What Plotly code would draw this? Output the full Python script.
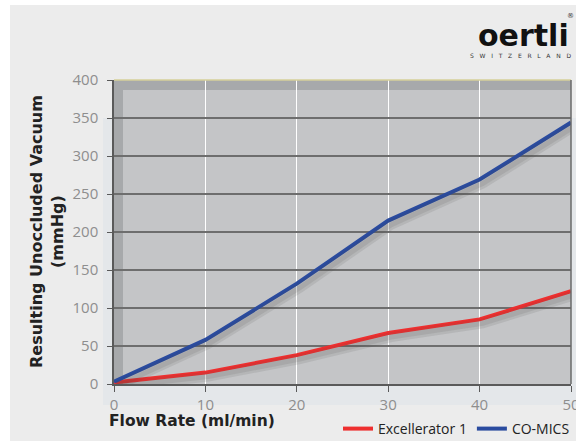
import plotly.graph_objects as go

flow_rate = [0, 10, 20, 30, 40, 50]
excellerator = [2, 15, 38, 67, 85, 122]
comics = [3, 58, 132, 215, 269, 344]
series_names = ["Excellerator 1", "CO-MICS"]
x_ticks = [0, 10, 20, 30, 40, 50]
y_ticks = [0, 50, 100, 150, 200, 250, 300, 350, 400]

RED = "#ee2f2f"
BLUE = "#2a4b9f"

fig = go.Figure()

# soft shadows drawn on slightly offset overlay axes
for ys in (excellerator, comics):
    fig.add_trace(go.Scatter(x=flow_rate, y=ys, mode="lines", xaxis="x2", yaxis="y2",
                             line=dict(color="rgba(70,70,70,0.12)", width=10),
                             showlegend=False, hoverinfo="skip"))
    fig.add_trace(go.Scatter(x=flow_rate, y=ys, mode="lines", xaxis="x2", yaxis="y2",
                             line=dict(color="rgba(70,70,70,0.12)", width=5),
                             showlegend=False, hoverinfo="skip"))

fig.add_trace(go.Scatter(x=flow_rate, y=excellerator, mode="lines", name=series_names[0],
                         line=dict(color=RED, width=4)))
fig.add_trace(go.Scatter(x=flow_rate, y=comics, mode="lines", name=series_names[1],
                         line=dict(color=BLUE, width=4)))

W, H = 576, 441
L, R, T, B = 114, 5, 80, 57
pw, ph = W - L - R, H - T - B

def px(xp):
    return (xp - L) / pw

def py(yp):
    return (H - B - yp) / ph

shapes = [
    # page background
    dict(type="rect", xref="paper", yref="paper", x0=px(10), x1=px(578), y0=py(443), y1=py(5),
         fillcolor="#ececec", line_width=0, layer="below"),
    # light glow around the panel
    dict(type="rect", xref="paper", yref="paper", x0=px(103), x1=px(578), y0=py(405), y1=py(118),
         fillcolor="#e4e7ea", line_width=0, layer="below"),
    # panel
    dict(type="rect", xref="x domain", yref="y domain", x0=0, x1=1, y0=0, y1=1,
         fillcolor="#c4c5c7", line_width=0, layer="below"),
    dict(type="rect", xref="x domain", yref="y domain", x0=0, x1=9 / pw, y0=0, y1=1,
         fillcolor="#a7a9ab", line_width=0, layer="below"),
    dict(type="rect", xref="x domain", yref="y domain", x0=0, x1=1, y0=1 - 10 / ph, y1=1,
         fillcolor="#a7a9ab", line_width=0, layer="below"),
    dict(type="line", xref="x domain", yref="y domain", x0=0, x1=1, y0=1, y1=1,
         line=dict(color="#d6d09a", width=1.5), layer="above"),
    dict(type="line", xref="x domain", yref="y domain", x0=1, x1=1, y0=0, y1=1,
         line=dict(color="#6a6a6a", width=1.5), layer="above"),
]

tickfont = dict(family="Open Sans", size=15, color="#8e8e8e")

fig.update_layout(
    width=W, height=H,
    margin=dict(l=L, r=R, t=T, b=B, autoexpand=False),
    paper_bgcolor="white",
    plot_bgcolor="rgba(0,0,0,0)",
    shapes=shapes,
    xaxis=dict(range=[0, 50], tickvals=x_ticks, showgrid=True, gridcolor="white", gridwidth=1,
               showline=True, linecolor="#5a5a5a", linewidth=1.5, ticks="outside", ticklen=6,
               tickcolor="#5a5a5a", tickfont=tickfont, zeroline=False, fixedrange=True,
               ticklabeloverflow="allow"),
    yaxis=dict(range=[0, 400], tickvals=y_ticks, showgrid=True, gridcolor="#6e6e6e", gridwidth=1.5,
               showline=True, linecolor="#5a5a5a", linewidth=1.5, ticks="outside", ticklen=5,
               tickcolor="#5a5a5a", tickfont=tickfont, zeroline=False, ticklabelstandoff=6,
               fixedrange=True),
    xaxis2=dict(overlaying="x", range=[-0.33, 49.67], visible=False),
    yaxis2=dict(overlaying="y", range=[5.3, 405.3], visible=False),
    legend=dict(orientation="h", xref="container", yref="container",
                xanchor="right", x=575 / W, yanchor="middle", y=(H - 429) / H,
                font=dict(family="Open Sans", size=14, color="#222"), itemwidth=30,
                bgcolor="rgba(0,0,0,0)", traceorder="normal"),
    annotations=[
        dict(text="<b>Resulting Unoccluded Vacuum<br>(mmHg)</b>", textangle=-90,
             xref="paper", yref="paper", x=px(47), y=py(232), xanchor="center", yanchor="middle",
             showarrow=False, font=dict(family="DejaVu Sans", size=16, color="#222"), align="center"),
        dict(text="<b>Flow Rate (ml/min)</b>", xref="paper", yref="paper", x=px(107), y=py(421),
             xanchor="left", yanchor="middle", showarrow=False,
             font=dict(family="DejaVu Sans", size=15.5, color="#222")),
        dict(text="<b>oertli</b>", xref="paper", yref="paper", x=px(571), y=py(35),
             xanchor="right", yanchor="middle", showarrow=False,
             font=dict(family="DejaVu Sans", size=30, color="#111")),
        dict(text="®", xref="paper", yref="paper", x=px(576), y=py(16),
             xanchor="right", yanchor="middle", showarrow=False,
             font=dict(family="DejaVu Sans", size=7, color="#333")),
        dict(text="S   W   I   T   Z   E   R   L   A   N   D", xref="paper", yref="paper", x=px(573), y=py(55),
             xanchor="right", yanchor="middle", showarrow=False,
             font=dict(family="DejaVu Sans", size=6, color="#333")),
    ],
)

fig.write_html("out.html", config={"displayModeBar": False},
               post_script="document.body.style.margin='0';document.body.style.overflow='hidden';")
